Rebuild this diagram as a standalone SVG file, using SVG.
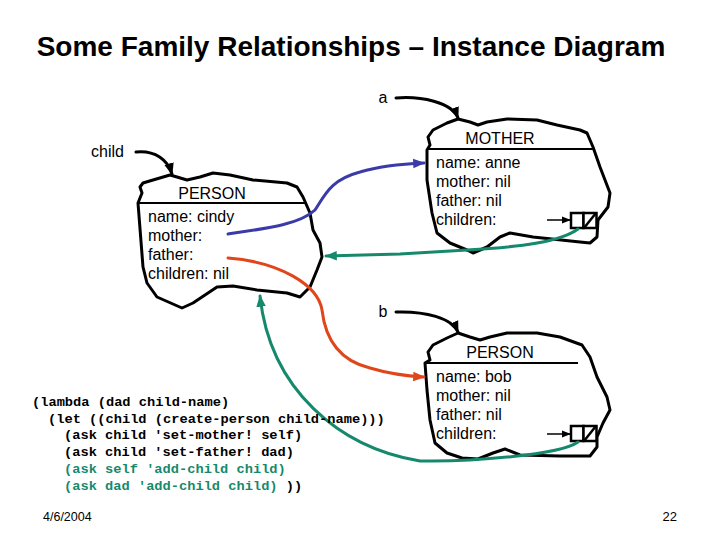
<svg xmlns="http://www.w3.org/2000/svg" width="720" height="540" viewBox="0 0 720 540">
<defs>
<style>
.t{font-family:"Liberation Sans",Arial,sans-serif;font-size:16px;fill:#000}
.blob{fill:none;stroke:#000;stroke-width:3;stroke-linejoin:round;stroke-linecap:round}
.hdr{stroke:#000;stroke-width:2}
.c{fill:none;stroke-width:3;stroke-linecap:round}
.code{font-family:"Liberation Mono","Courier New",monospace;font-size:13.7px;font-weight:bold;white-space:pre}
.box{fill:#fff;stroke:#000;stroke-width:2.5}
</style>
<marker id="ak" viewBox="0 0 10 10" refX="9" refY="5" markerWidth="4" markerHeight="4" orient="auto" markerUnits="strokeWidth"><path d="M0,1 L10,5 L0,9 z" fill="#000"/></marker>
<marker id="ab" viewBox="0 0 10 10" refX="9" refY="5" markerWidth="4" markerHeight="4" orient="auto" markerUnits="strokeWidth"><path d="M0,1 L10,5 L0,9 z" fill="#3a3aa8"/></marker>
<marker id="ar" viewBox="0 0 10 10" refX="9" refY="5" markerWidth="4" markerHeight="4" orient="auto" markerUnits="strokeWidth"><path d="M0,1 L10,5 L0,9 z" fill="#e0461a"/></marker>
<marker id="ag" viewBox="0 0 10 10" refX="9" refY="5" markerWidth="4" markerHeight="4" orient="auto" markerUnits="strokeWidth"><path d="M0,1 L10,5 L0,9 z" fill="#16896c"/></marker>
<marker id="as" viewBox="0 0 10 10" refX="9" refY="5" markerWidth="6" markerHeight="6" orient="auto" markerUnits="strokeWidth"><path d="M0,1 L10,5 L0,9 z" fill="#000"/></marker>
</defs>
<rect width="720" height="540" fill="#fff"/>
<text x="351" y="56" text-anchor="middle" style="font-family:'Liberation Sans',Arial,sans-serif;font-size:28px;font-weight:bold">Some Family Relationships – Instance Diagram</text>

<g id="label-a"><text class="t" x="383" y="103" text-anchor="middle">a</text></g>
<g id="label-child"><text class="t" x="91" y="157">child</text></g>
<g id="label-b"><text class="t" x="383" y="317" text-anchor="middle">b</text></g>

<g id="mother">
<path class="blob" d="M430,145 L428,137 L433,130 L447,123 L458,119 L470,122 L478,125 L487,122 L507,119 L537,120 L557,125 L580,130 L587,133 L593,147 L600,167 L610,193 L608,207 L598,220 L597,237 L590,243 L580,242 L533,237 L510,233 L500,237 L487,247 L473,253 L467,250 L450,243 L437,233 L432,213 L427,180 L427,150 Z"/>
<line class="hdr" x1="427" y1="149" x2="593" y2="149"/>
<text class="t" x="500" y="144" text-anchor="middle">MOTHER</text>
<text class="t" x="436" y="168">name: anne</text>
<text class="t" x="436" y="187">mother: nil</text>
<text class="t" x="436" y="206">father: nil</text>
<text class="t" x="436" y="225">children:</text>
<rect class="box" x="571" y="213" width="12.5" height="15"/>
<rect class="box" x="583.5" y="213" width="13" height="15"/>
<line x1="584" y1="228" x2="596" y2="213" stroke="#000" stroke-width="2.5"/>
<line x1="547" y1="220" x2="570" y2="220" stroke="#000" stroke-width="1.5" marker-end="url(#as)"/>
</g>

<g id="person-cindy">
<path class="blob" d="M142,193 L140,187 L143,183 L153,180 L170,175 L177,177 L187,180 L200,177 L213,173 L230,175 L253,180 L287,183 L297,187 L303,197 L310,213 L313,230 L320,243 L322,257 L317,270 L310,287 L300,297 L287,293 L257,290 L233,286 L217,287 L193,303 L182,308 L157,297 L147,283 L143,267 L138,203 Z"/>
<line class="hdr" x1="138" y1="203" x2="305" y2="203"/>
<text class="t" x="212" y="199" text-anchor="middle">PERSON</text>
<text class="t" x="148" y="222">name: cindy</text>
<text class="t" x="148" y="241">mother:</text>
<text class="t" x="148" y="260">father:</text>
<text class="t" x="148" y="279">children: nil</text>
</g>

<g id="person-bob">
<path class="blob" d="M430,360 L428,352 L433,345 L447,338 L458,333 L470,337 L480,340 L490,337 L507,333 L537,333 L560,337 L582,345 L590,357 L597,377 L607,397 L610,410 L603,423 L597,437 L597,447 L590,456 L560,456 L520,455 L505,449 L493,453 L478,459 L462,458 L447,453 L435,443 L430,420 L427,390 L425,363 Z"/>
<line class="hdr" x1="425" y1="363" x2="578" y2="363"/>
<text class="t" x="500" y="358" text-anchor="middle">PERSON</text>
<text class="t" x="436" y="382">name: bob</text>
<text class="t" x="436" y="401">mother: nil</text>
<text class="t" x="436" y="420">father: nil</text>
<text class="t" x="436" y="439">children:</text>
<rect class="box" x="571" y="426" width="12.5" height="15"/>
<rect class="box" x="583.5" y="426" width="13" height="15"/>
<line x1="584" y1="441" x2="596" y2="426" stroke="#000" stroke-width="2.5"/>
<line x1="547" y1="434" x2="570" y2="434" stroke="#000" stroke-width="1.5" marker-end="url(#as)"/>
</g>

<g id="connectors">
<path class="c" stroke="#000" d="M396,98 C420,96 452,102 458,118" marker-end="url(#ak)"/>
<path class="c" stroke="#000" d="M136,152 C155,150 168,160 172,174" marker-end="url(#ak)"/>
<path class="c" stroke="#000" d="M396,312 C425,311 452,318 458,332" marker-end="url(#ak)"/>
<path class="c" stroke="#3a3aa8" d="M228,234 C270,228 300,224 315,210 C325,195 330,180 360,172 C380,166 400,164 424,163" marker-end="url(#ab)"/>
<path class="c" stroke="#e0461a" d="M228,258 C280,262 318,285 322,310 C326,345 345,362 370,368 C390,374 405,376 424,377" marker-end="url(#ar)"/>
<path class="c" stroke="#16896c" d="M578,229 C560,242 520,247 467,250 L400,254 L326,256" marker-end="url(#ag)"/>
<path class="c" stroke="#16896c" d="M578,442 C560,455 470,462 420,461 C340,448 270,390 260,296" marker-end="url(#ag)"/>
</g>

<g id="code">
<text class="code" x="32" y="406" fill="#000">(lambda (dad child-name)</text>
<text class="code" x="48" y="423" fill="#000">(let ((child (create-person child-name)))</text>
<text class="code" x="64" y="439" fill="#000">(ask child 'set-mother! self)</text>
<text class="code" x="64" y="456" fill="#000">(ask child 'set-father! dad)</text>
<text class="code" x="64" y="473" fill="#16896c">(ask self 'add-child child)</text>
<text class="code" x="64" y="490" fill="#16896c">(ask dad 'add-child child)<tspan fill="#000"> ))</tspan></text>
</g>

<text x="43" y="521" style="font-family:'Liberation Sans',Arial,sans-serif;font-size:12.5px">4/6/2004</text>
<text x="677" y="521" text-anchor="end" style="font-family:'Liberation Sans',Arial,sans-serif;font-size:13px">22</text>
</svg>
